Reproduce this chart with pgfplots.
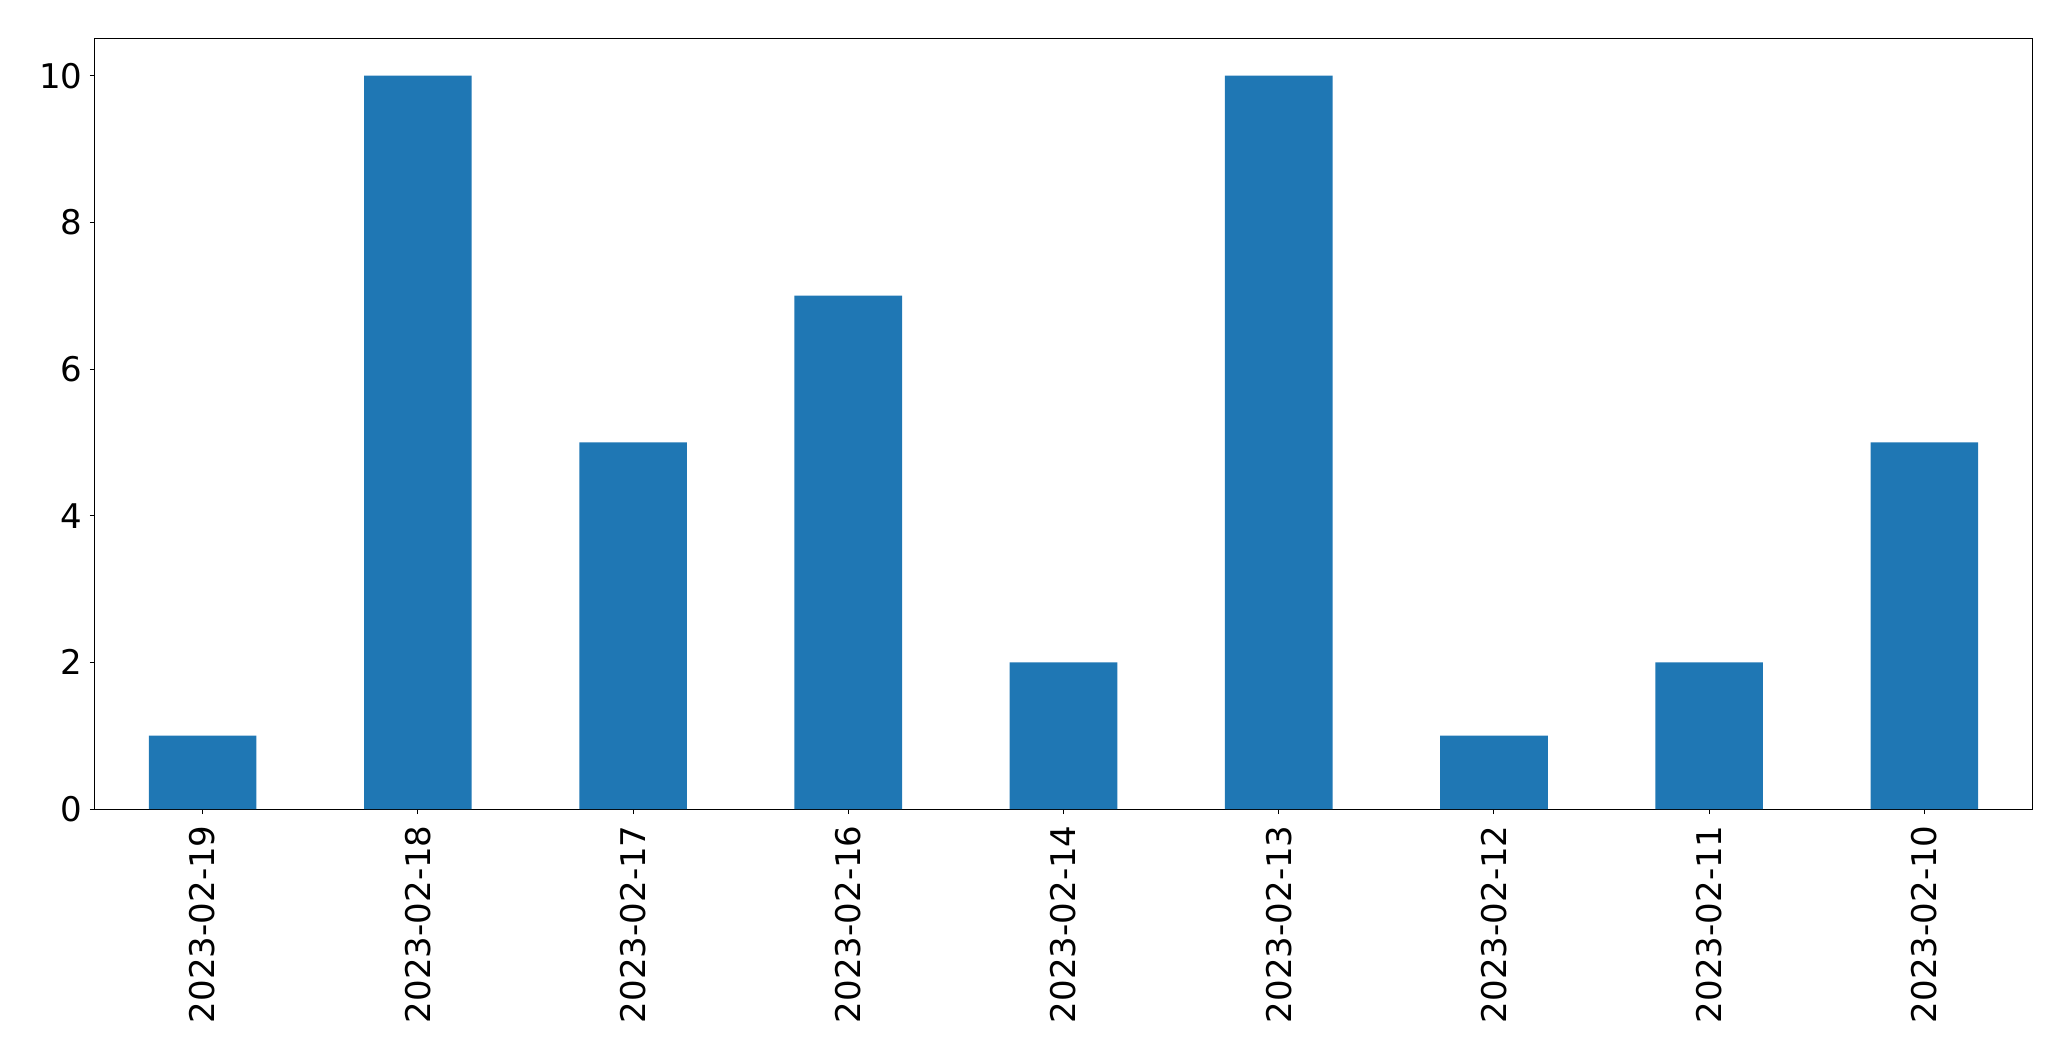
\documentclass[border=0pt]{standalone}
\usepackage{pgfplots}
\pgfplotsset{compat=1.18}
\usepackage{fontspec}
\setmainfont{DejaVu Sans}
\definecolor{mplblue}{HTML}{1F77B4}
\begin{document}
\begin{tikzpicture}
\begin{axis}[
  at={(0,0)}, anchor=south west,
  scale only axis,
  width=968.5pt, height=385pt,
  xmin=-0.5, xmax=8.5, ymin=0, ymax=10.5,
  xtick={0,...,8},
  xticklabels={2023-02-19,2023-02-18,2023-02-17,2023-02-16,2023-02-14,2023-02-13,2023-02-12,2023-02-11,2023-02-10},
  ytick={0,2,4,6,8,10},
  tick align=outside,
  xtick pos=bottom, ytick pos=left,
  major tick length=2.5pt,
  every tick/.style={black, line width=0.5pt},
  axis line style={black, line width=0.5pt},
  /pgf/number format/assume math mode=true,
  ticklabel style={font=\fontsize{17}{20}\selectfont, inner sep=0pt},
  xticklabel style={rotate=90, anchor=east, yshift=0pt, xshift=-5.5pt},
  yticklabel style={anchor=east, xshift=-3.5pt},
]
\addplot[ybar, bar width=0.5, fill=mplblue, draw=none] coordinates {
  (0,1) (1,10) (2,5) (3,7) (4,2) (5,10) (6,1) (7,2) (8,5)
};
\end{axis}
\pgfresetboundingbox
\path (-47.5pt,-126pt) rectangle (988pt,404.5pt);
\end{tikzpicture}
\end{document}
